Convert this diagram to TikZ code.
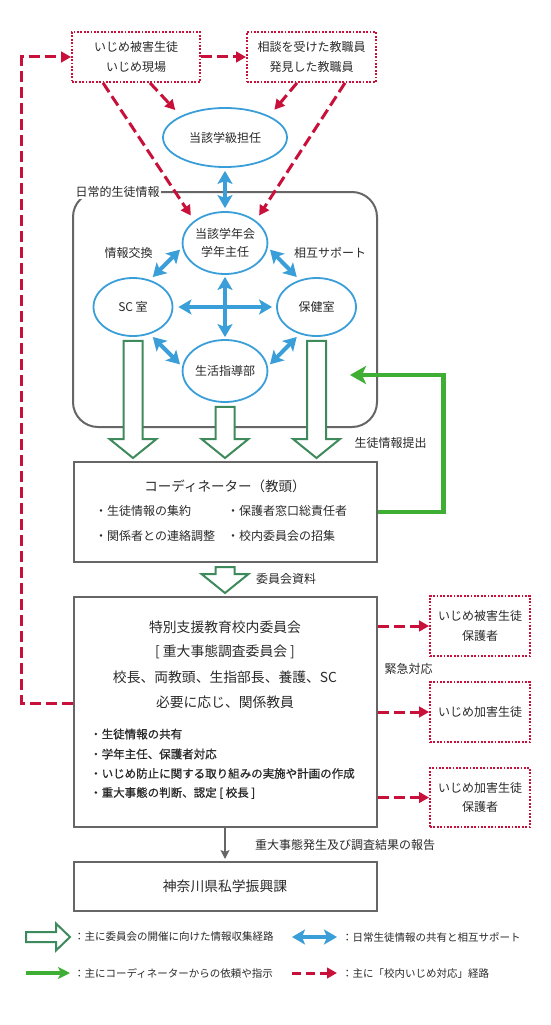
\documentclass[tikz,border=0pt]{standalone}
\usepackage{fontspec}
\setmainfont{Noto Sans CJK JP}
\newfontfamily\jpbold[FakeBold=0.8]{Noto Sans CJK JP}
\usetikzlibrary{shapes.geometric,arrows.meta,calc}
\definecolor{redd}{HTML}{C8103A}
\definecolor{bluee}{HTML}{3A9FD8}
\definecolor{dgreen}{HTML}{3F8A5C}
\definecolor{lgreen}{HTML}{3FAE35}
\definecolor{grayline}{HTML}{666666}
\definecolor{txt}{HTML}{2A2A2A}
\newcommand\fsz[1]{\fontsize{#1}{1.45em}\selectfont}
\newcommand\hollowdn[2]{\draw[hollow] let \p1=#1, \p2=#2 in
  (\x1-9.5pt,\y1-4pt) -- (\x1-9.5pt,\y2+22pt) -- (\x1-23.5pt,\y2+22pt) -- (\x1,\y2+3pt)
  -- (\x1+23.5pt,\y2+22pt) -- (\x1+9.5pt,\y2+22pt) -- (\x1+9.5pt,\y1-4pt) -- cycle;}
\tikzset{
  every node/.style={text=txt},
  redbox/.style={draw=redd, line width=1.8pt, dash pattern=on 1.8pt off 1.6pt, inner sep=0pt,
    align=center, font=\fontsize{12}{19.5}\selectfont},
  ell/.style={draw=bluee, line width=1.8pt, ellipse, inner sep=0pt, align=center,
    font=\fontsize{12}{18}\selectfont},
  graybox/.style={draw=grayline, line width=2pt, inner sep=0pt},
  reddash/.style={draw=redd, line width=3pt, dash pattern=on 11pt off 5pt,
    -{Triangle[length=10pt,width=10.5pt]}},
  bluearr/.style={draw=bluee, line width=4pt,
    {Stealth[length=13pt,width=15pt,inset=3pt]}-{Stealth[length=13pt,width=15pt,inset=3pt]}},
  greenarr/.style={draw=lgreen, line width=4.5pt, -{Stealth[length=16pt,width=18pt,inset=4pt]}},
  grayarr/.style={draw=grayline, line width=1.6pt, -{Stealth[length=9pt,width=9pt,inset=2pt]}},
  hollow/.style={draw=dgreen, line width=2pt, fill=white, line join=miter},
  lbl/.style={font=\fsz{12}, inner sep=0pt},
  legend/.style={font=\fsz{10.5}, inner sep=0pt, anchor=west},
  bul/.style={font=\fsz{12}, inner sep=0pt, anchor=west},
  cbul/.style={font=\jpbold\fsz{11.5}, inner sep=0pt, anchor=west},
  big/.style={font=\fsz{13.8}, inner sep=0pt}
}
\begin{document}
\begin{tikzpicture}[x=1pt,y=-1pt]
\useasboundingbox[fill=white] (0,0) rectangle (550,1025);

% daily information frame
\draw[grayline, line width=2pt, rounded corners=25pt] (73,192) rectangle (377,427);
\node[fill=white, inner sep=1.5pt, anchor=west, font=\fsz{12}] (nichijo) at (74,192) {日常的生徒情報};

% top boxes
\node[redbox, minimum width=128pt, minimum height=50pt] (vic) at (136,57) {いじめ被害生徒\\いじめ現場};
\node[redbox, minimum width=129pt, minimum height=50pt] (tea) at (311.5,57) {相談を受けた教職員\\発見した教職員};

% ellipses
\node[ell, minimum width=124pt, minimum height=59pt] (tan) at (225,137.5) {当該学級担任};
\node[ell, minimum width=80pt, minimum height=62pt] (nen) at (225,243) {当該学年会\\学年主任};
\node[ell, minimum width=79pt, minimum height=58pt] (sc) at (133,307) {SC 室};
\node[ell, minimum width=79pt, minimum height=58pt] (hok) at (316.5,307) {保健室};
\node[ell, minimum width=80pt, minimum height=62pt] (sei) at (225,371) {生活指導部};

\node[lbl] (koukan) at (128.5,253) {情報交換};
\node[lbl] (sougo) at (330,253) {相互サポート};

% blue arrows
\draw[bluearr, shorten <=3pt, shorten >=3pt] (tan.south) -- (nen.north);
\draw[bluearr, shorten <=2pt, shorten >=2pt] (nen.south) -- (sei.north);
\draw[bluearr, shorten <=5pt, shorten >=4pt] (sc.east) -- (hok.west);
\draw[bluearr, shorten <=4pt, shorten >=3pt] (sc.58) -- (nen.186);
\draw[bluearr, shorten <=3pt, shorten >=4pt] (nen.354) -- (hok.122);
\draw[bluearr, shorten <=4pt, shorten >=3pt] (sc.-58) -- (sei.174);
\draw[bluearr, shorten <=3pt, shorten >=4pt] (sei.6) -- (hok.-122);

% red dashed from top
\draw[reddash] (vic.east) -- (tea.west);
\draw[reddash, shorten >=8pt] ([xshift=14pt]vic.south) -- (tan.154);
\draw[reddash, shorten >=8pt] ([xshift=-14.5pt]tea.south) -- (tan.26);
\draw[reddash, shorten >=6pt] ([xshift=-33pt]vic.south) -- (nen.144);
\draw[reddash, shorten >=6pt] ([xshift=33.5pt]tea.south) -- (nen.36);

% coordinator
\node[graybox, minimum width=303pt, minimum height=100pt] (coo) at (225,512) {};
\node[big, font=\fsz{13.5}] (cootitle) at (225,486) {コーディネーター（教頭）};
\node[bul] (cb1) at (95,511) {・生徒情報の集約};
\node[bul] (cb2) at (227,511) {・保護者窓口総責任者};
\node[bul] (cb3) at (95,536) {・関係者との連絡調整};
\node[bul] (cb4) at (227,536) {・校内委員会の招集};

% hollow arrows into coordinator
\hollowdn{(sc.south)}{(coo.north)}
\hollowdn{(sei.south)}{(coo.north)}
\hollowdn{(hok.south)}{(coo.north)}

% green feedback
\coordinate (gtip) at (350,375);
\draw[greenarr] (coo.east) -- ++(66,0) |- (gtip);
\node[lbl] (teishutsu) at (390.5,443) {生徒情報提出};

% committee
\node[graybox, minimum width=303pt, minimum height=230pt] (com) at (225,712) {};
\hollowdn{(coo.south)}{(com.north)}
\node[lbl, anchor=west] (shiryo) at (256,579) {委員会資料};
\node[big] (ct1) at (225,627) {特別支援教育校内委員会};
\node[big] (ct2) at (225,652) {[ 重大事態調査委員会 ]};
\node[big] (ct3) at (225,677) {校長、両教頭、生指部長、養護、SC};
\node[big] (ct4) at (225,702) {必要に応じ、関係教員};
\node[cbul] (cl1) at (90,734) {・生徒情報の共有};
\node[cbul] (cl2) at (90,754) {・学年主任、保護者対応};
\node[cbul] (cl3) at (90,773.5) {・いじめ防止に関する取り組みの実施や計画の作成};
\node[cbul] (cl4) at (90,793) {・重大事態の判断、認定 [ 校長 ]};

% right boxes
\node[redbox, minimum width=100pt, minimum height=60pt] (v1) at (480,626) {いじめ被害生徒\\保護者};
\node[redbox, minimum width=100pt, minimum height=60pt] (v2) at (480,712) {いじめ加害生徒};
\node[redbox, minimum width=100pt, minimum height=59pt] (v3) at (480,797.5) {いじめ加害生徒\\保護者};
\draw[reddash] (com.east |- v1.west) -- (v1.west);
\draw[reddash] (com.east |- v2.west) -- (v2.west);
\draw[reddash] (com.east |- v3.west) -- (v3.west);
\node[lbl] (kinkyu) at (408.5,669) {緊急対応};

% back to top
\draw[reddash] ([yshift=9pt]com.west) -- ++(-51,0) |- (vic.west);

% kanagawa
\node[graybox, minimum width=303pt, minimum height=49pt, font=\fsz{13.8}] (kan) at (225,886.5) {神奈川県私学振興課};
\draw[grayarr, shorten >=2pt] (com.south) -- (kan.north);
\node[lbl, anchor=west] (houkoku) at (255,845) {重大事態発生及び調査結果の報告};

% legend
\draw[hollow] (26,932) -- (56,932) -- (56,923.5) -- (70,937) -- (56,950.5) -- (56,942) -- (26,942) -- cycle;
\node[legend] (lg1) at (74,937) {：主に委員会の開催に向けた情報収集経路};
\draw[bluearr] (292,937) -- (337,937);
\node[legend] (lg2) at (342,937) {：日常生徒情報の共有と相互サポート};
\draw[greenarr, line width=3.5pt, -{Stealth[length=12pt,width=12pt,inset=3pt]}] (26,973) -- (70,973);
\node[legend] (lg3) at (74,973) {：主にコーディネーターからの依頼や指示};
\draw[reddash, dash pattern=on 9pt off 5pt] (292,973) -- (337,973);
\node[legend] (lg4) at (342,973) {：主に「校内いじめ対応」経路};
\end{tikzpicture}
\end{document}
